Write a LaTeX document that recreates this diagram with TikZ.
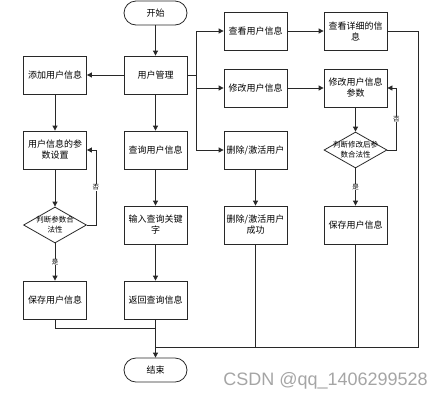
\documentclass[tikz,border=0pt]{standalone}
\usepackage{fontspec}
\setmainfont{Noto Sans CJK SC}
\newfontfamily\wmfont{Liberation Sans}
\usetikzlibrary{positioning}
\usetikzlibrary{arrows.meta}
\usetikzlibrary{shapes.geometric}
\definecolor{edge}{RGB}{40,40,40}
\definecolor{wmgray}{RGB}{165,165,165}

\begin{document}
\begin{tikzpicture}[x=1pt, y=-1pt,
    box/.style={draw=edge, line width=0.8pt, minimum width=63pt, minimum height=38pt, inner sep=1pt, align=center, font=\fontsize{9}{11}\selectfont},
    term/.style={draw=edge, line width=0.8pt, rounded corners=12pt, minimum width=63pt, minimum height=24pt, font=\fontsize{9}{11}\selectfont},
    decision/.style={diamond, draw=edge, line width=0.8pt, aspect=1.75, minimum width=63pt, minimum height=36pt, inner sep=-8pt, align=center, font=\fontsize{7.5}{10}\selectfont},
    flow/.style={draw=edge, line width=0.8pt},
    arr/.style={flow, -{Triangle[length=5pt,width=5pt]}},
    tag/.style={font=\fontsize{6.5}{7}\selectfont, fill=white, inner sep=0.5pt}]
    \useasboundingbox (0,0) rectangle (446,400);

    % Left and middle columns
    \node[term] (start) at (155.5,13) {开始};
    \node[box] (mgmt) at (155.5,75) {用户管理};
    \node[box] (add) at (55,75) {添加用户信息};
    \node[box] (param) at (55,150) {用户信息的参\\数设置};
    \node[decision] (chk1) at (55,225) {判断参数合\\法性};
    \node[box] (save1) at (55,300) {保存用户信息};
    \node[box] (query) at (155.5,150) {查询用户信息};
    \node[box] (keyword) at (155.5,225) {输入查询关键\\字};
    \node[box] (ret) at (155.5,300) {返回查询信息};
    \node[term] (end) at (155.5,370) {结束};

    % Right columns
    \node[box] (view) at (255.5,31) {查看用户信息};
    \node[box] (modify) at (255.5,88) {修改用户信息};
    \node[box] (remove) at (255.5,150) {删除/激活用户};
    \node[box] (removed) at (255.5,225) {删除/激活用户\\成功};
    \node[box] (detail) at (355.5,31) {查看详细的信\\息};
    \node[box] (modparam) at (355.5,88) {修改用户信息\\参数};
    \node[decision] (chk2) at (355.5,150) {判断修改后参\\数合法性};
    \node[box] (save2) at (355.5,225) {保存用户信息};

    % Watermark
    \node[font=\wmfont\fontsize{18}{18}\selectfont, text=wmgray] (mark) at (325.5,381) {CSDN @qq\_1406299528};

    % Draw connectors
    \draw[arr] (start) -- (mgmt);
    \draw[arr] (mgmt) -- (add);
    \draw[arr] (add) -- (param);
    \draw[arr] (param) -- (chk1);
    \draw[arr] (chk1) -- node[tag] {是} (save1);
    \draw[arr] (chk1.east) -- ++(9,0) |- node[tag, pos=0.25] {否} (param.east);
    \draw[arr] (mgmt) -- (query);
    \draw[arr] (query) -- (keyword);
    \draw[arr] (keyword) -- (ret);
    \draw[arr] (ret) -- (end);

    \coordinate (bus) at (196,75);
    \draw[flow] (mgmt.east) -- (bus);
    \foreach \t in {view,modify,remove} {
        \draw[arr] (bus) |- (\t);
    }
    \draw[arr] (view) -- (detail);
    \draw[arr] (modify) -- (modparam);
    \draw[arr] (modparam) -- (chk2);
    \draw[arr] (chk2) -- node[tag] {是} (save2);
    \draw[arr] (chk2.east) -- ++(9,0) |- node[tag, pos=0.25] {否} (modparam.east);
    \draw[arr] (remove) -- (removed);

    % Draw merging lines
    \coordinate (join) at (155.5,328);
    \coordinate (merge) at (155.5,347);
    \coordinate (rim) at (418,347);
    \draw[flow] (save1.south) |- (join);
    \draw[flow] (detail.east) -| (rim) -- (merge);
    \draw[flow] (removed.south) -- (removed.south |- rim);
    \draw[flow] (save2.south) -- (save2.south |- rim);
\end{tikzpicture}
\end{document}
